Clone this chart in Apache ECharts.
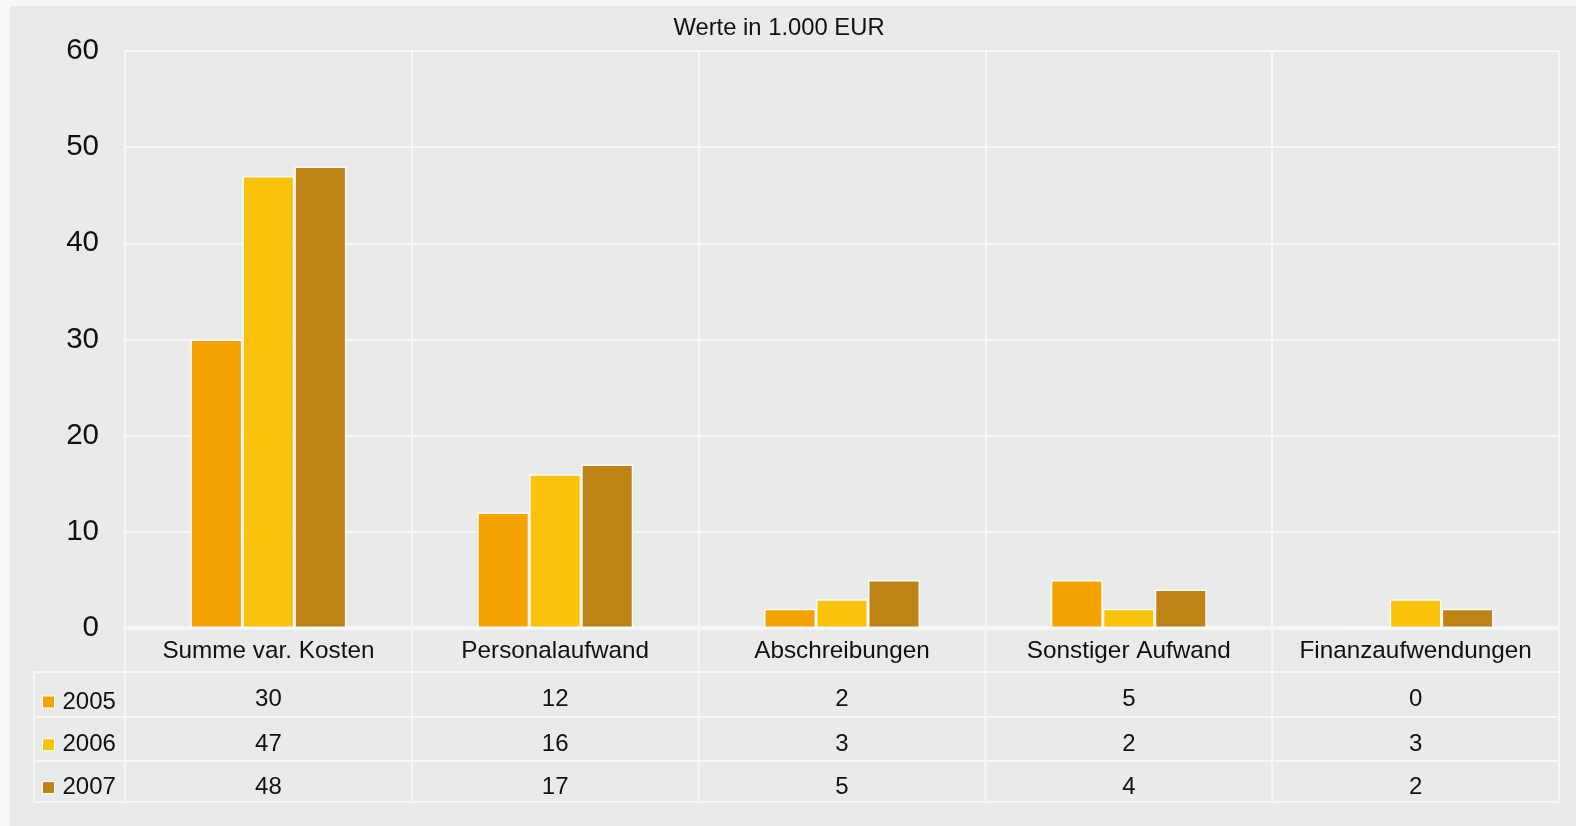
<!DOCTYPE html>
<html>
<head>
<meta charset="utf-8">
<script src="https://cdn.jsdelivr.net/npm/echarts@6/dist/echarts.min.js"></script>
<style>
html,body{margin:0;padding:0;background:#f7f7f7;}
#c{width:1576px;height:826px;}
</style>
</head>
<body>
<div id="c"></div>
<script>
const categories = ['Summe var. Kosten', 'Personalaufwand', 'Abschreibungen', 'Sonstiger Aufwand', 'Finanzaufwendungen'];
const years = ['2005', '2006', '2007'];
const values2005 = [30, 12, 2, 5, 0];
const values2006 = [47, 16, 3, 2, 3];
const values2007 = [48, 17, 5, 4, 2];
const yTicks = [0, 10, 20, 30, 40, 50, 60];

const seriesValues = [values2005, values2006, values2007];
const colors = ['#f4a300', '#fac30b', '#bf8215'];
const FONT = '"Liberation Sans", Arial, sans-serif';
const lineCol = '#f6f7f7';

const chart = echarts.init(document.getElementById('c'));

const GL = 125, GR = 1559, GT = 51, GB = 628;
const rowLines = [672, 717, 761, 802];
const rowCenters = [699.5, 744, 787];

const option = {
  backgroundColor: '#f7f7f7',
  animation: false,
  color: colors,
  legend: {
    orient: 'vertical', left: 37, top: 683,
    itemWidth: 12, itemHeight: 12, itemGap: 14.8,
    icon: 'rect',
    itemStyle: {borderColor: '#ffffff', borderWidth: 1},
    textStyle: {fontFamily: FONT, fontSize: 24, color: '#111', lineHeight: 24, padding: [4, 0, 0, 3]},
    data: years
  },
  grid: {left: GL, right: 1576 - GR, top: GT, bottom: 826 - GB, containLabel: false},
  xAxis: {
    type: 'category', data: categories,
    axisLine: {show: true, lineStyle: {color: '#f7f7f7', width: 4}},
    axisTick: {show: false},
    splitLine: {show: true, lineStyle: {color: lineCol, width: 2}},
    axisLabel: {fontFamily: FONT, fontSize: 24.3, color: '#111', margin: 11, interval: 0}
  },
  yAxis: {
    type: 'value', min: 0, max: 60, interval: 10,
    axisLine: {show: true, lineStyle: {color: lineCol, width: 2}},
    axisTick: {show: false},
    splitLine: {show: true, lineStyle: {color: lineCol, width: 2}},
    axisLabel: {fontFamily: FONT, fontSize: 29.5, color: '#111', margin: 26, padding: [4, 0, 0, 0],
      formatter: v => yTicks.includes(v) ? String(v) : ''}
  },
  series: years.map((y, i) => ({
    name: y, type: 'bar', data: seriesValues[i],
    barWidth: 52, barGap: '0%',
    itemStyle: {color: colors[i], borderColor: '#fafafa', borderWidth: 1.5}
  }))
};
chart.setOption(option);

// Table built from the data and the axis scale
const g = [];
g.push({type: 'rect', z: -10, silent: true, shape: {x: 10, y: 6, width: 1566, height: 820}, style: {fill: '#e9eaea'}});
g.push({type: 'text', silent: true, x: 779, y: 28.5,
  style: {text: 'Werte in 1.000 EUR', fill: '#111', font: '23.8px ' + FONT, align: 'center', verticalAlign: 'middle'}});
rowLines.forEach(y => g.push({type: 'line', silent: true, shape: {x1: 34, y1: y, x2: GR, y2: y}, style: {stroke: lineCol, lineWidth: 2}}));
g.push({type: 'line', silent: true, shape: {x1: 34, y1: rowLines[0], x2: 34, y2: rowLines[3]}, style: {stroke: lineCol, lineWidth: 2}});
const half = (chart.convertToPixel({xAxisIndex: 0}, categories[1]) - chart.convertToPixel({xAxisIndex: 0}, categories[0])) / 2;
categories.forEach((c, i) => {
  const cx = chart.convertToPixel({xAxisIndex: 0}, c);
  g.push({type: 'line', silent: true, shape: {x1: cx - half, y1: GB, x2: cx - half, y2: rowLines[3]}, style: {stroke: lineCol, lineWidth: 2}});
  if (i === categories.length - 1) {
    g.push({type: 'line', silent: true, shape: {x1: cx + half, y1: GB, x2: cx + half, y2: rowLines[3]}, style: {stroke: lineCol, lineWidth: 2}});
  }
  seriesValues.forEach((vals, s) => {
    g.push({type: 'text', silent: true, x: cx, y: rowCenters[s],
      style: {text: String(vals[i]), fill: '#111', font: '24px ' + FONT, align: 'center', verticalAlign: 'middle'}});
  });
});
chart.setOption({graphic: g});
</script>
</body>
</html>
